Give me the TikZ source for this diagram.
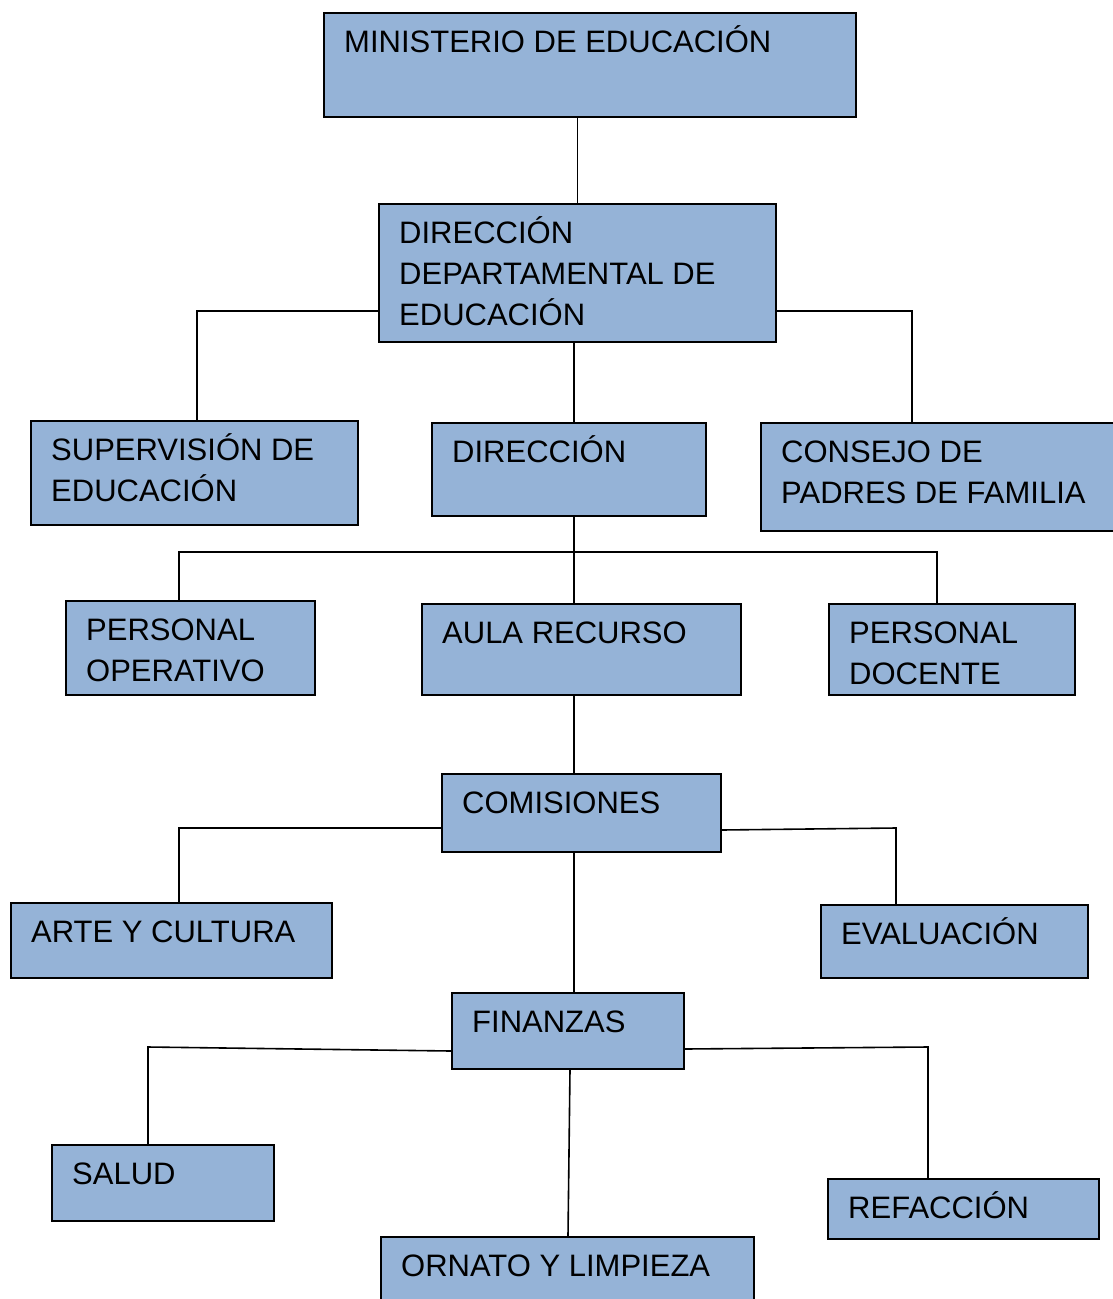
\documentclass[tikz,border=0pt]{standalone}
\usepackage{fontspec}
\setmainfont{Liberation Sans}

\definecolor{boxblue}{RGB}{149,179,215}
\tikzset{
box/.style={draw=black, fill=boxblue, line width=1.6pt, inner sep=0pt},
boxtext/.style={inner sep=0pt, align=left, anchor=north west,
    font=\fontsize{31}{41}\selectfont},
link/.style={draw=black, line width=1.6pt}}

\begin{document}
\begin{tikzpicture}[x=1pt,y=1pt,yscale=-1,xscale=1]

    \useasboundingbox (0,0) rectangle (1113,1299);

    % boxes: name / left / top / right / bottom / text
    \foreach \nm/\xa/\ya/\xb/\yb/\txt in {
        min/323/12/855/116/{MINISTERIO DE EDUCACIÓN},
        dep/378/203/775/341/{DIRECCIÓN\\DEPARTAMENTAL DE\\EDUCACIÓN},
        sup/30/420/357/524/{SUPERVISIÓN DE\\EDUCACIÓN},
        dir/431/422/705/515/{DIRECCIÓN},
        con/760/422/1122/530/{CONSEJO DE\\PADRES DE FAMILIA},
        po/65/600/314/694/{PERSONAL\\OPERATIVO},
        aula/421/603/740/694/{AULA RECURSO},
        pd/828/603/1074/694/{PERSONAL\\DOCENTE},
        com/441/773/720/851/{COMISIONES},
        arte/10/902/331/977/{ARTE Y CULTURA},
        eval/820/904/1087/977/{EVALUACIÓN},
        fin/451/992/683/1068/{FINANZAS},
        sal/51/1144/273/1220/{SALUD},
        ref/827/1178/1098/1238/{REFACCIÓN},
        orn/380/1236/753/1312/{ORNATO Y LIMPIEZA}
    }{
        \node[box, anchor=north west,
            minimum width={(\xb-\xa)*1pt},
            minimum height={(\yb-\ya)*1pt}]
            (\nm) at (\xa,\ya) {};
        \node[boxtext] (\nm-t) at ([shift={(21,11.3)}]\nm.north west) {\strut\txt};
    }

    % top part
    \draw[link] (dep.north |- min.south) -- (dep.north);
    \draw[link] ([yshift=38]dep.west) -| (sup.north -| 197,0);
    \draw[link] ([yshift=38]dep.east) -| (con.north -| 912,0);
    \draw[link] (dep.south -| 574,0) -- (dir.north -| 574,0);

    % direccion
    \coordinate (bus) at (574,552);
    \draw[link] (dir.south -| 574,0) -- (aula.north -| 574,0);
    \draw[link] (po.north -| 179,0) |- (bus) -| (pd.north -| 937,0);

    % comisiones
    \draw[link] (aula.south -| 574,0) -- (com.north -| 574,0);
    \draw[link] (com.west |- 0,828) -| (arte.north -| 179,0);
    \draw[link] (com.east |- 0,830) -- (896,828) -- (eval.north -| 896,0);
    \draw[link] (com.south -| 574,0) -- (fin.north -| 574,0);

    % finanzas
    \draw[link] (fin.west |- 0,1051) -- (148,1047) -- (sal.north -| 148,0);
    \draw[link] (fin.east |- 0,1049) -- (928,1047) -- (ref.north -| 928,0);
    \draw[link] (fin.south -| 570,0) -- (orn.north -| 568,0);

\end{tikzpicture}
\end{document}
